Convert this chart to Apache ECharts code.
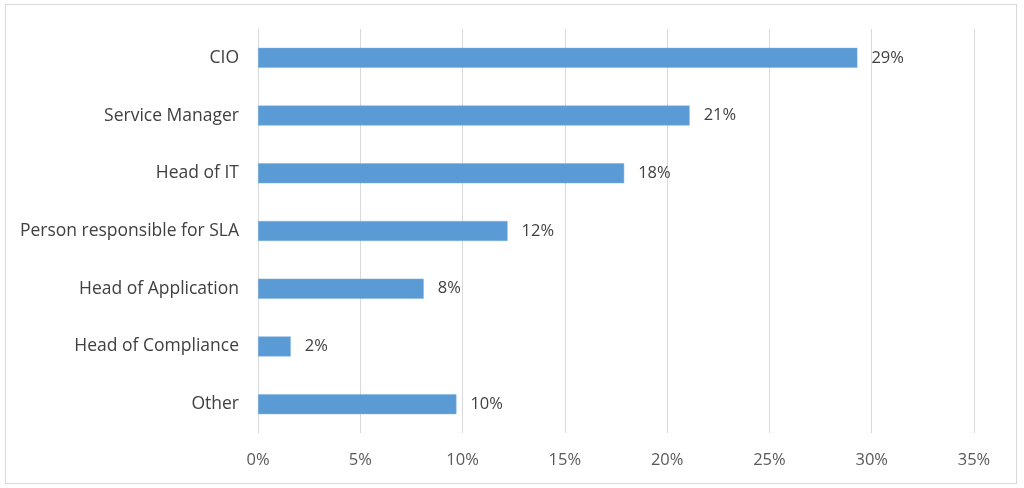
<!DOCTYPE html>
<html>
	<head>
		<meta charset="UTF-8">
		<title></title>
		<script type="text/javascript" src="https://cdn.jsdelivr.net/npm/echarts@6/dist/echarts.min.js"></script>
		<style>
			html, body { margin: 0; padding: 0; background: #fff; }
			#box { position: absolute; left: 5px; top: 4px; width: 1010px; height: 478px; border: 1px solid #d9d9d9; }
			#roles { width: 1024px; height: 488px; }
		</style>
	</head>
	<body>
		<div id="box"></div>
		<div id="roles"></div>
		<script>
			// 数据：从上到下的职位
			var roleNames = ['CIO', 'Service Manager', 'Head of IT', 'Person responsible for SLA', 'Head of Application', 'Head of Compliance', 'Other'];
			var roleShares = [29.3, 21.1, 17.9, 12.2, 8.1, 1.6, 9.7];
			var shareLabels = ['29%', '21%', '18%', '12%', '8%', '2%', '10%'];
			var tickMax = 35;
			var tickStep = 5;

			var chart = echarts.init(document.getElementById('roles'));

			var option = {
				animation: false,
				grid: { left: 258, right: 50, top: 29, bottom: 55, containLabel: false },
				xAxis: {
					type: 'value',
					min: 0,
					max: tickMax,
					interval: tickStep,
					axisLine: { show: false },
					axisTick: { show: false },
					splitLine: { lineStyle: { color: '#d9d9d9', width: 1 } },
					axisLabel: {
						formatter: '{value}%',
						color: '#595959',
						fontFamily: 'Open Sans',
						fontSize: 16.5,
						margin: 19
					}
				},
				yAxis: {
					type: 'category',
					inverse: true,
					data: roleNames,
					axisLine: { show: true, lineStyle: { color: '#d9d9d9' } },
					axisTick: { show: false },
					axisLabel: {
						color: '#404040',
						fontFamily: 'Open Sans',
						fontSize: 17.5,
						margin: 19
					}
				},
				series: [{
					type: 'bar',
					data: roleShares,
					barWidth: 20,
					itemStyle: { color: '#5b9bd5', borderColor: '#7fb0de', borderWidth: 0.5 },
					label: {
						show: true,
						position: 'right',
						distance: 14,
						color: '#404040',
						fontFamily: 'Open Sans',
						fontSize: 16.5,
						formatter: function (p) { return shareLabels[p.dataIndex]; }
					}
				}]
			};

			chart.setOption(option);
		</script>
	</body>
</html>
